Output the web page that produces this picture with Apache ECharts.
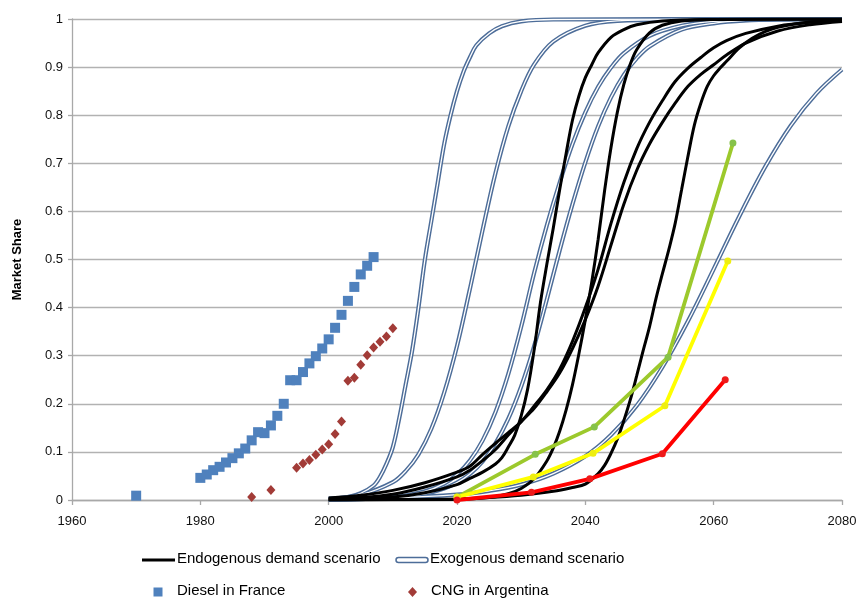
<!DOCTYPE html>
<html>
<head>
<meta charset="utf-8">
<title>Market Share</title>
<script src="https://cdn.jsdelivr.net/npm/echarts@6/dist/echarts.min.js"></script>
<style>
  html, body { margin: 0; padding: 0; background: #fff; }
  #chart { width: 866px; height: 601px; }
</style>
</head>
<body>
<div id="chart"></div>
<script>
// Historical adoption: Diesel in France (share of new cars)
const dieselYears = [1970, 1980, 1981, 1982, 1983, 1984, 1985, 1986, 1987, 1988, 1989, 1990, 1991, 1992, 1993, 1994, 1995, 1996, 1997, 1998, 1999, 2000, 2001, 2002, 2003, 2004, 2005, 2006, 2007];
const dieselShare = [0.009, 0.046, 0.053, 0.062, 0.069, 0.078, 0.087, 0.097, 0.107, 0.124, 0.141, 0.139, 0.155, 0.175, 0.200, 0.249, 0.249, 0.266, 0.284, 0.299, 0.315, 0.334, 0.358, 0.385, 0.414, 0.443, 0.469, 0.487, 0.505];

// Historical adoption: CNG in Argentina
const cngYears = [1988, 1991, 1995, 1996, 1997, 1998, 1999, 2000, 2001, 2002, 2003, 2004, 2005, 2006, 2007, 2008, 2009, 2010];
const cngShare = [0.006, 0.021, 0.067, 0.076, 0.083, 0.094, 0.105, 0.116, 0.137, 0.163, 0.248, 0.254, 0.281, 0.301, 0.317, 0.329, 0.340, 0.357];

// Exogenous demand scenario runs: [year, share]
const exoA = [[2000,0.002],[2003,0.006],[2005,0.014],[2007,0.03],[2008,0.048],[2009,0.075],[2010,0.11],[2011,0.17],[2012,0.24],[2013,0.31],[2014,0.40],[2015,0.50],[2016,0.58],[2017,0.66],[2018,0.74],[2019,0.80],[2020,0.85],[2021,0.89],[2022,0.92],[2023,0.945],[2025,0.97],[2027,0.985],[2030,0.995],[2035,0.999],[2080,1]];
const exoB = [[2000,0.003],[2005,0.011],[2010,0.037],[2012,0.06],[2014,0.095],[2016,0.148],[2018,0.223],[2020,0.32],[2022,0.438],[2024,0.562],[2026,0.68],[2028,0.777],[2030,0.85],[2032,0.905],[2035,0.953],[2040,0.986],[2045,0.996],[2055,0.999],[2080,1]];
const exoC = [[2000,0.001],[2010,0.006],[2015,0.018],[2018,0.034],[2020,0.053],[2022,0.082],[2024,0.124],[2026,0.183],[2028,0.262],[2030,0.36],[2032,0.471],[2034,0.571],[2036,0.66],[2038,0.74],[2040,0.806],[2042,0.859],[2044,0.899],[2046,0.929],[2050,0.965],[2055,0.986],[2060,0.995],[2070,0.999],[2080,1]];
const exoD = [[2000,0.001],[2010,0.005],[2015,0.013],[2018,0.024],[2020,0.036],[2022,0.054],[2024,0.08],[2026,0.118],[2028,0.169],[2030,0.236],[2032,0.319],[2034,0.417],[2036,0.519],[2038,0.615],[2040,0.702],[2042,0.777],[2044,0.837],[2046,0.884],[2048,0.918],[2050,0.943],[2055,0.978],[2060,0.991],[2065,0.997],[2070,0.999],[2080,1]];
const exoE = [[2000,0.001],[2010,0.004],[2020,0.011],[2025,0.019],[2030,0.032],[2035,0.055],[2040,0.091],[2044,0.135],[2048,0.196],[2052,0.276],[2056,0.372],[2060,0.48],[2064,0.59],[2068,0.692],[2072,0.778],[2076,0.845],[2080,0.895]];

// Endogenous demand scenario runs: [year, share]
const endoA = [[2000,0.001],[2010,0.006],[2015,0.015],[2020,0.032],[2022,0.045],[2024,0.058],[2026,0.075],[2027,0.088],[2028,0.11],[2029,0.135],[2030,0.175],[2031,0.23],[2032,0.31],[2033,0.41],[2034,0.49],[2035,0.565],[2036,0.645],[2037,0.72],[2038,0.79],[2039,0.84],[2040,0.878],[2041,0.905],[2042,0.93],[2044,0.962],[2046,0.978],[2048,0.988],[2052,0.996],[2060,0.999],[2080,1]];
const endoB = [[2000,0],[2020,0.001],[2025,0.005],[2028,0.013],[2030,0.024],[2032,0.044],[2034,0.081],[2035,0.108],[2036,0.143],[2037,0.187],[2038,0.24],[2039,0.304],[2040,0.375],[2041,0.453],[2042,0.542],[2043,0.643],[2044,0.733],[2045,0.807],[2046,0.864],[2047,0.906],[2048,0.936],[2050,0.971],[2052,0.987],[2055,0.996],[2060,0.999],[2080,1]];
const endoC = [[2000,0.004],[2005,0.01],[2010,0.02],[2015,0.036],[2020,0.058],[2022,0.07],[2024,0.095],[2026,0.118],[2028,0.14],[2030,0.163],[2032,0.195],[2034,0.229],[2036,0.272],[2038,0.33],[2040,0.40],[2042,0.48],[2044,0.575],[2046,0.66],[2048,0.73],[2050,0.785],[2052,0.83],[2054,0.87],[2056,0.898],[2058,0.92],[2060,0.94],[2062,0.955],[2065,0.97],[2070,0.985],[2075,0.993],[2080,0.997]];
const endoD = [[2000,0.002],[2005,0.005],[2010,0.012],[2015,0.027],[2020,0.048],[2022,0.062],[2024,0.082],[2026,0.105],[2028,0.135],[2030,0.163],[2032,0.19],[2034,0.225],[2036,0.264],[2038,0.315],[2040,0.375],[2042,0.445],[2044,0.53],[2046,0.615],[2048,0.685],[2050,0.74],[2052,0.785],[2054,0.825],[2056,0.86],[2058,0.885],[2060,0.905],[2062,0.925],[2065,0.95],[2070,0.975],[2075,0.988],[2080,0.995]];
const endoE = [[2000,0],[2010,0.001],[2020,0.002],[2025,0.005],[2030,0.01],[2035,0.018],[2038,0.026],[2040,0.033],[2042,0.055],[2043,0.072],[2044,0.097],[2045,0.127],[2046,0.165],[2047,0.208],[2048,0.258],[2049,0.31],[2050,0.36],[2051,0.418],[2052,0.47],[2053,0.52],[2054,0.575],[2055,0.645],[2056,0.715],[2057,0.78],[2058,0.825],[2059,0.86],[2060,0.882],[2061,0.898],[2062,0.912],[2064,0.94],[2066,0.96],[2068,0.974],[2070,0.983],[2075,0.994],[2080,0.997]];

// Marked projection paths
const greenPath = [[2020,0.006],[2032.2,0.095],[2041.4,0.152],[2052.9,0.297],[2063,0.742]];
const yellowPath = [[2020,0.006],[2031.9,0.048],[2041.2,0.097],[2052.4,0.196],[2062.2,0.497]];
const redPath = [[2020,0.0],[2031.6,0.016],[2040.7,0.044],[2052,0.096],[2061.8,0.25]];

const xTicks = { min: 1960, max: 2080, step: 20 };
const yTicks = { min: 0, max: 1, step: 0.1 };

const FONT = '"Liberation Sans", Arial, Helvetica, sans-serif';
const EXO_BLUE = '#4D6D99';
const DIESEL_BLUE = '#4F81BD';
const CNG_RED = '#A23B37';
const ENDO = 'Endogenous demand scenario';
const EXO = 'Exogenous demand scenario';
const DIESEL = 'Diesel in France';
const CNG = 'CNG in Argentina';

const zip = (xs, ys) => xs.map((x, i) => [x, ys[i]]);
const SMOOTH = 0.35;

const series = [];

// Exogenous runs: blue outer stroke with a white core gives the double-line look
[exoA, exoB, exoC, exoD, exoE].forEach(run => {
  series.push({
    name: EXO, type: 'line', data: run, showSymbol: false, smooth: SMOOTH,
    color: EXO_BLUE, lineStyle: { color: EXO_BLUE, width: 4.2 }, z: 2, silent: true
  });
  series.push({
    name: 'exo core', type: 'line', data: run, showSymbol: false, smooth: SMOOTH,
    lineStyle: { color: '#FFFFFF', width: 1.3 }, z: 3, silent: true
  });
});

// Endogenous runs: solid black
[endoA, endoB, endoC, endoD, endoE].forEach(run => {
  series.push({
    name: ENDO, type: 'line', data: run, showSymbol: false, smooth: SMOOTH,
    color: '#000000', lineStyle: { color: '#000000', width: 3 }, z: 4, silent: true
  });
});

// Projection paths with round markers
[
  { name: 'green path', data: greenPath, line: '#9CC92C', mark: '#86C24A' },
  { name: 'yellow path', data: yellowPath, line: '#FFFF00', mark: '#EEEE10' },
  { name: 'red path', data: redPath, line: '#FF0000', mark: '#EE1A1A' }
].forEach(p => {
  series.push({
    name: p.name, type: 'line', data: p.data, symbol: 'circle', symbolSize: 7, showSymbol: true,
    lineStyle: { color: p.line, width: 3.8 }, itemStyle: { color: p.mark, opacity: 1 }, z: 6, silent: true
  });
});

series.push({
  name: DIESEL, type: 'scatter', data: zip(dieselYears, dieselShare), symbol: 'rect', symbolSize: 10,
  itemStyle: { color: DIESEL_BLUE, opacity: 1 }, z: 5, silent: true
});
series.push({
  name: CNG, type: 'scatter', data: zip(cngYears, cngShare), symbol: 'diamond', symbolSize: [9, 10],
  itemStyle: { color: CNG_RED, opacity: 1 }, z: 5, silent: true
});

const axisGray = '#A8A8A8';
const labelStyle = { fontFamily: FONT, fontSize: 13, color: '#111' };
const legendText = (x, y, text) => ({
  type: 'text', left: x, top: y - 9,
  style: { text: text, fontFamily: FONT, fontSize: 15, fill: '#000' }
});

const option = {
  animation: false,
  backgroundColor: '#fff',
  textStyle: { fontFamily: FONT },
  grid: { left: 72, top: 19, width: 770, height: 481, containLabel: false },
  xAxis: {
    type: 'value', min: xTicks.min, max: xTicks.max, interval: xTicks.step,
    axisLine: { show: true, lineStyle: { color: axisGray, width: 1.3 } },
    axisTick: { show: true, length: 5, lineStyle: { color: axisGray, width: 1.3 } },
    splitLine: { show: false },
    axisLabel: Object.assign({ margin: 15, formatter: v => String(v) }, labelStyle)
  },
  yAxis: {
    type: 'value', min: yTicks.min, max: yTicks.max, interval: yTicks.step,
    name: 'Market Share', nameLocation: 'middle', nameGap: 48, nameRotate: 90,
    nameTextStyle: { fontFamily: FONT, fontSize: 13, fontWeight: 'bold', color: '#000' },
    axisLine: { show: true, lineStyle: { color: axisGray, width: 1.3 } },
    axisTick: { show: true, length: 4, lineStyle: { color: axisGray, width: 1.3 } },
    splitLine: { show: true, lineStyle: { color: '#B2B2B2', width: 1.3 } },
    axisLabel: Object.assign({ margin: 9, formatter: v => String(Math.round(v * 10) / 10) }, labelStyle)
  },
  // Legend keys drawn as graphics so their spacing follows the two-row layout
  graphic: [
    { type: 'line', shape: { x1: 142, y1: 560, x2: 175, y2: 560 }, style: { stroke: '#000', lineWidth: 3 } },
    legendText(177, 560, ENDO),
    { type: 'rect', shape: { x: 396, y: 557.5, width: 32, height: 5, r: 2.5 }, style: { fill: '#fff', stroke: EXO_BLUE, lineWidth: 1.5 } },
    legendText(430, 560, EXO),
    { type: 'rect', shape: { x: 153.5, y: 587.5, width: 9, height: 9 }, style: { fill: DIESEL_BLUE } },
    legendText(177, 592, DIESEL),
    { type: 'polygon', shape: { points: [[412.5, 587], [417, 592], [412.5, 597], [408, 592]] }, style: { fill: CNG_RED } },
    legendText(431, 592, CNG)
  ],
  series: series
};

const chart = echarts.init(document.getElementById('chart'), null, { renderer: 'canvas' });
chart.setOption(option);
</script>
</body>
</html>
